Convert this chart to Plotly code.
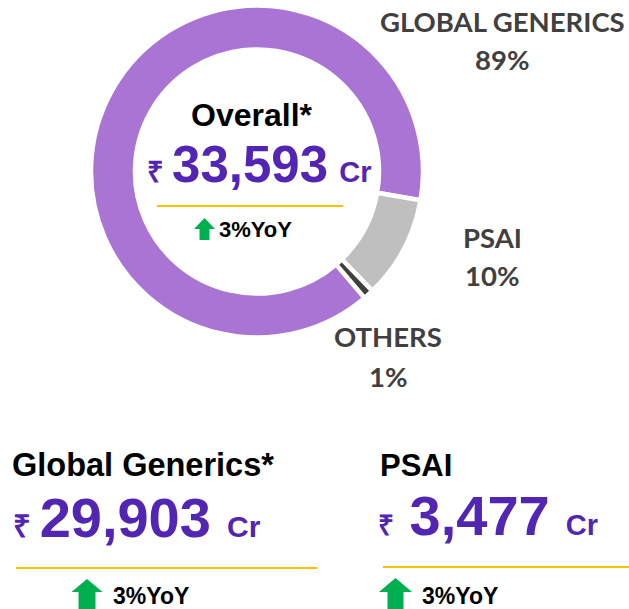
import plotly.graph_objects as go

# ---- data ----
segments = ["GLOBAL GENERICS", "PSAI", "OTHERS"]
shares = [89, 10, 1]
seg_colors = ["#A974D4", "#BFBFBF", "#404040"]

overall_title = "Overall*"
overall_value = "33,593"
overall_yoy = 3

gg_title = "Global Generics*"
gg_value = "29,903"
gg_yoy = 3

psai_title = "PSAI"
psai_value = "3,477"
psai_yoy = 3

W, H = 629, 609
PURPLE = "#5226B3"
GREEN = "#00B050"
YELLOW = "#FFC000"
LABEL_GREY = "#404040"
FONT = "Liberation Sans, Arial, sans-serif"
LFONT = "Lato, Carlito, sans-serif"


def px(x):
    return x / W


def py(y):
    return 1 - y / H


fig = go.Figure()
fig.add_trace(go.Pie(
    labels=segments, values=shares, hole=0.735, sort=False,
    direction="clockwise", rotation=139.6,
    marker=dict(colors=seg_colors, line=dict(color="white", width=4.5)),
    textinfo="none", hoverinfo="label+percent", showlegend=False,
    domain=dict(x=[px(91), px(423)], y=[py(338), py(5)]),
))

ann = []
shapes = []

# segment labels outside the ring
label_pos = {"GLOBAL GENERICS": (502, 22, 60), "PSAI": (492, 237, 275), "OTHERS": (388, 336, 376)}
for name, val in zip(segments, shares):
    x, y1, y2 = label_pos[name]
    ann.append(dict(x=px(x), y=py(y1), text=f"<b>{name}</b>", font=dict(family=LFONT, size=27.5, color=LABEL_GREY)))
    ann.append(dict(x=px(x), y=py(y2), text=f"<b>{val}%</b>", font=dict(family=LFONT, size=27.5, color=LABEL_GREY)))


def value_text(v, rs, big, cr, lead, gap_size, gap):
    return (f"<b><span style='font-size:{rs}px'>₹{lead}</span>"
            f"<span style='font-size:{big}px'>{v}</span>"
            f"<span style='font-size:{gap_size}px'>{gap}</span>"
            f"<span style='font-size:{cr}px'>Cr</span></b>")


def arrow(xc, ytop, hw, hh, sw, ybot):
    return dict(type="path", xref="paper", yref="paper",
                path=(f"M {px(xc)} {py(ytop)} L {px(xc + hw / 2)} {py(ytop + hh)} "
                      f"L {px(xc + sw / 2)} {py(ytop + hh)} L {px(xc + sw / 2)} {py(ybot)} "
                      f"L {px(xc - sw / 2)} {py(ybot)} L {px(xc - sw / 2)} {py(ytop + hh)} "
                      f"L {px(xc - hw / 2)} {py(ytop + hh)} Z"),
                fillcolor=GREEN, line=dict(width=0))


# centre block
ann.append(dict(x=px(252), y=py(115), text=f"<b>{overall_title}</b>", font=dict(family=FONT, size=32, color="black")))
ann.append(dict(x=px(145), y=py(164), xanchor="left",
                text=value_text(overall_value, 29, 51, 29, "&nbsp;", 40, "&nbsp;"),
                font=dict(family=FONT, size=51, color=PURPLE)))
shapes.append(dict(type="line", xref="paper", yref="paper", x0=px(157), x1=px(343), y0=py(206), y1=py(206),
                   line=dict(color=YELLOW, width=2)))
shapes.append(arrow(204.5, 218, 21, 11, 10, 240))
ann.append(dict(x=px(217), y=py(229.5), xanchor="left", text=f"<b>{overall_yoy}%YoY</b>",
                font=dict(family=FONT, size=22, color="black")))

# bottom-left block
ann.append(dict(x=px(10), y=py(465), xanchor="left", text=f"<b>{gg_title}</b>", font=dict(family=FONT, size=32.5, color="black")))
ann.append(dict(x=px(11), y=py(517), xanchor="left",
                text=value_text(gg_value, 31, 56, 30, "&nbsp;", 29, "&nbsp;&nbsp;"),
                font=dict(family=FONT, size=56, color=PURPLE)))
shapes.append(dict(type="line", xref="paper", yref="paper", x0=px(16), x1=px(317), y0=py(568), y1=py(568),
                   line=dict(color=YELLOW, width=2)))
shapes.append(arrow(87, 579, 31, 13, 17, 612))
ann.append(dict(x=px(111), y=py(596), xanchor="left", text=f"<b>{gg_yoy}%YoY</b>",
                font=dict(family=FONT, size=23, color="black")))

# bottom-right block
ann.append(dict(x=px(378), y=py(465), xanchor="left", text=f"<b>{psai_title}</b>", font=dict(family=FONT, size=31, color="black")))
ann.append(dict(x=px(376), y=py(515), xanchor="left",
                text=value_text(psai_value, 28, 56, 29, "&nbsp;&nbsp;", 29, "&nbsp;&nbsp;"),
                font=dict(family=FONT, size=56, color=PURPLE)))
shapes.append(dict(type="line", xref="paper", yref="paper", x0=px(383), x1=px(629), y0=py(567), y1=py(567),
                   line=dict(color=YELLOW, width=2)))
shapes.append(arrow(395.5, 578, 33, 14, 16, 612))
ann.append(dict(x=px(420), y=py(595.5), xanchor="left", text=f"<b>{psai_yoy}%YoY</b>",
                font=dict(family=FONT, size=23, color="black")))

for a in ann:
    a.setdefault("xanchor", "center")
    a.update(xref="paper", yref="paper", yanchor="middle", showarrow=False)

fig.update_layout(
    width=W, height=H, margin=dict(l=0, r=0, t=0, b=0),
    paper_bgcolor="white", plot_bgcolor="white",
    annotations=ann, shapes=shapes,
)
fig.write_html("out.html", config={"displayModeBar": False},
               post_script="document.body.style.margin='0';document.body.style.overflow='hidden';")
